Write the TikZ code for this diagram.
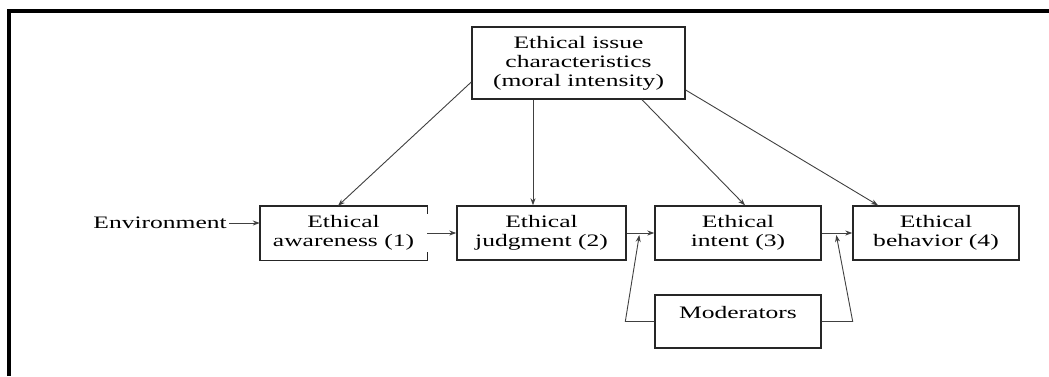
\documentclass[tikz,border=0pt]{standalone}
\usepackage{fontspec}
\setmainfont{Liberation Serif}[FakeStretch=1.46]
\usetikzlibrary{arrows.meta,calc}
\begin{document}
\begin{tikzpicture}[x=1pt,y=-1pt,
  box/.style={draw=black!85,line width=1.4pt,inner sep=0pt,align=center,
    font=\fontsize{17.5}{19}\selectfont},
  plain/.style={inner sep=0pt,align=center,font=\fontsize{17.5}{19}\selectfont},
  arr/.style={draw=black!75,line width=0.9pt,-{Stealth[length=7pt,width=5pt]}}]
\useasboundingbox (0,0) rectangle (1049,376);
\draw[line width=4pt] (9,376) -- (9,11) -- (1049,11);
% nodes
\node[box,minimum width=213pt,minimum height=72pt] (top) at (578.5,63)
  {Ethical issue\\characteristics\\(moral intensity)};
\node[plain,minimum width=167pt,minimum height=54pt] (aw) at (343.5,233)
  {Ethical\\awareness (1)};
\draw[black!85,line width=1.4pt] ([yshift=-8pt]aw.north east) -- (aw.north east) -- (aw.north west)
  -- (aw.south west) -- (aw.south east) -- ([yshift=8pt]aw.south east);
\node[box,minimum width=169pt,minimum height=54pt] (jd) at (541.5,233)
  {Ethical\\judgment (2)};
\node[box,minimum width=166pt,minimum height=54pt] (in) at (738,233)
  {Ethical\\intent (3)};
\node[box,minimum width=166pt,minimum height=54pt] (bh) at (936,233)
  {Ethical\\behavior (4)};
\node[box,minimum width=166pt,minimum height=53pt] (mod) at (738,321.5) {};
\node[plain] (modt) at (738,313) {Moderators};
\node[plain,anchor=east] (env) at (227,223) {Environment};
% arrows from top
\draw[arr] ([yshift=-19pt]top.west) -- ([xshift=-5.5pt]aw.north);
\draw[arr] ([xshift=-45.5pt]top.south) -- ([xshift=-8.5pt]jd.north);
\draw[arr] ([xshift=63.5pt]top.south) -- ([xshift=7pt]in.north);
\draw[arr] ([yshift=-27pt]top.east) -- ([xshift=-58pt]bh.north);
% horizontal chain
\draw[arr] ([xshift=2pt]env.east) -- (env.east -| aw.west);
\draw[arr] (aw.east) -- (jd.west);
\draw[arr] (jd.east) -- (in.west);
\draw[arr] (in.east) -- (bh.west);
% moderators
\draw[arr] (mod.west) -- ++(-29,0) -- ([xshift=-15pt,yshift=-2pt]in.west);
\draw[arr] (mod.east) -- ++(31,0) -- ([xshift=-16pt,yshift=-2pt]bh.west);
\end{tikzpicture}
\end{document}
